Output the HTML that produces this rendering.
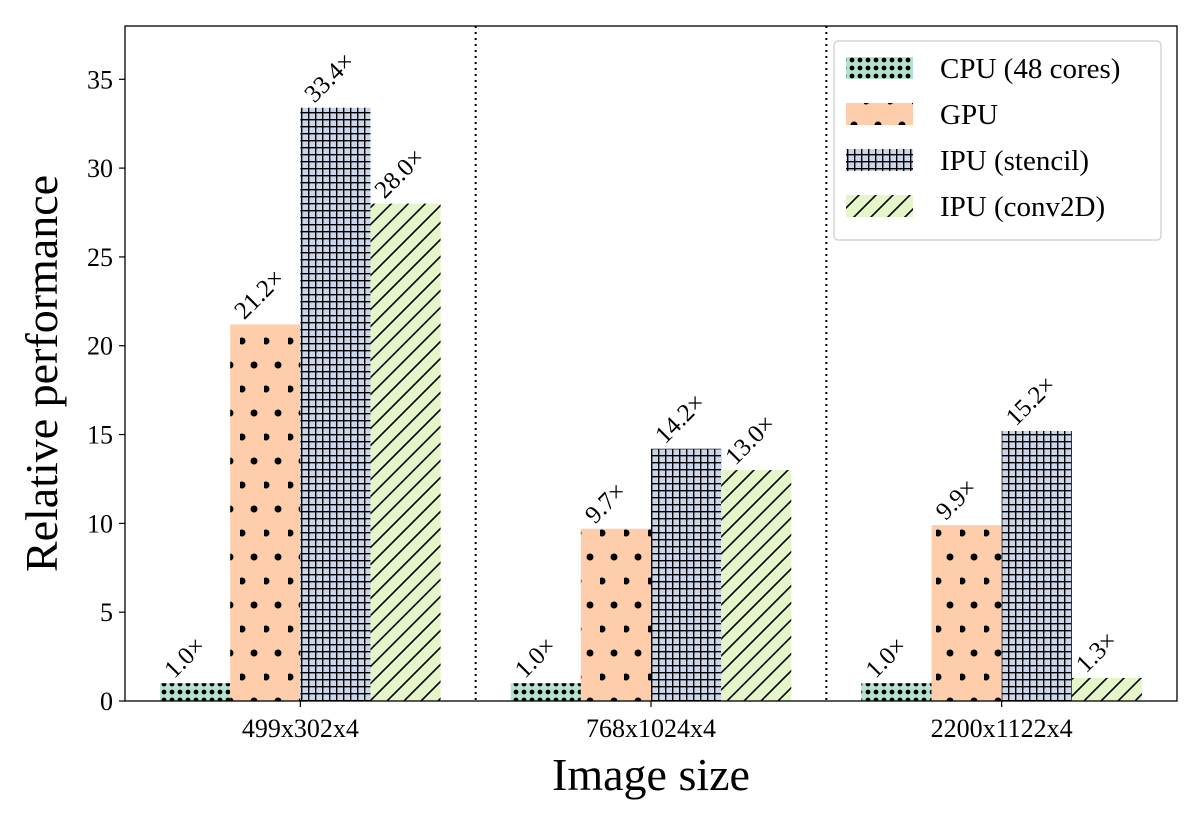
<!DOCTYPE html>
<html><head><meta charset="utf-8"><style>body{margin:0;background:#fff}svg{display:block;font-family:"Liberation Serif",serif}</style></head>
<body>
<svg id="c" width="1200" height="825">
<defs>
<pattern id="p0" patternUnits="userSpaceOnUse" width="8" height="8"><rect width="8" height="8" fill="#b3e2cd"/><circle cx="4" cy="4" r="2.4" fill="#000"/></pattern>
<pattern id="p1" patternUnits="userSpaceOnUse" width="24" height="48"><rect width="24" height="48" fill="#fdcdac"/><circle cx="2" cy="5" r="3.5" fill="#000"/><circle cx="14" cy="29" r="3.5" fill="#000"/></pattern>
<pattern id="p2" patternUnits="userSpaceOnUse" width="7" height="7"><rect width="7" height="7" fill="#cbd5e8"/><path d="M0 0.5H7M0.5 0V7" stroke="#000" stroke-width="1.8"/></pattern>
<pattern id="p3" patternUnits="userSpaceOnUse" width="17" height="17"><rect width="17" height="17" fill="#e6f5c9"/><path d="M-2 19L19 -2M-19 19L2 -2M15 19L36 -2" stroke="#000" stroke-width="1.6"/></pattern>
</defs>
<g id="plot"></g>
</svg>
<script>
const categories=["499x302x4","768x1024x4","2200x1122x4"];
const seriesNames=["CPU (48 cores)","GPU","IPU (stencil)","IPU (conv2D)"];
const cpu=[1.0,1.0,1.0];
const gpu=[21.2,9.7,9.9];
const stencil=[33.4,14.2,15.2];
const conv=[28.0,13.0,1.3];
const yTicks=[0,5,10,15,20,25,30,35];
const series=[cpu,gpu,stencil,conv];
const L=125,R=1177,T=26,B=701,YMAX=38;
const xs=v=>L+(v+0.5)/3*(R-L);
const ys=v=>B-v/YMAX*(B-T);
const bw=0.2*(R-L)/3;
const NS="http://www.w3.org/2000/svg";
const g=document.getElementById('plot');
function mk(t,a,txt){const e=document.createElementNS(NS,t);for(const k in a)e.setAttribute(k,a[k]);if(txt!=null)e.textContent=txt;g.appendChild(e);return e;}
series.forEach((s,si)=>{s.forEach((v,ci)=>{
 const x=xs(ci)+(si-2)*bw;
 const r=mk('rect',{x:x,y:ys(v),width:bw,height:ys(0)-ys(v),fill:'url(#p'+si+')'});
 
 
 const tx=x+bw/2-21,ty=ys(v)-4;
 const t=mk('text',{x:tx,y:ty,'font-size':25,transform:'rotate(-45 '+tx+' '+ty+')'},v.toFixed(1)+'×');
 
 
});});
[0.5,1.5].forEach(v=>{const l=mk('line',{x1:xs(v),x2:xs(v),y1:T,y2:B,stroke:'#000','stroke-width':2,'stroke-dasharray':'2,4'});
 
 });
yTicks.forEach(v=>{mk('line',{x1:L-6,x2:L,y1:ys(v),y2:ys(v),stroke:'#000','stroke-width':1.2});
 const t=mk('text',{x:L-12,y:ys(v)+9,'font-size':26,'text-anchor':'end'},v);
 
 });
categories.forEach((c,i)=>{mk('line',{x1:xs(i),x2:xs(i),y1:B,y2:B+6,stroke:'#000','stroke-width':1.2});
 const t=mk('text',{x:xs(i),y:737,'font-size':26,'text-anchor':'middle'},c);
 
 });
const fr=mk('rect',{x:L,y:T,width:R-L,height:B-T,fill:'none',stroke:'#000','stroke-width':1.3});


const yl=mk('text',{x:57,y:(T+B)/2+10,'font-size':46,'text-anchor':'middle',transform:'rotate(-90 57 '+((T+B)/2+10)+')'},'Relative performance');


const xl=mk('text',{x:(L+R)/2,y:790,'font-size':46,'text-anchor':'middle'},'Image size');


const lb=mk('rect',{x:834,y:41,width:327,height:199,rx:4,fill:'#fff','fill-opacity':0.8,stroke:'#ccc','stroke-width':1.2});


seriesNames.forEach((n,i)=>{const y=57+i*46;
 const p=mk('rect',{x:846,y:y,width:67,height:22,fill:'url(#p'+i+')'});
 
 
 const t=mk('text',{x:940,y:y+21,'font-size':29},n);
 
 });
</script>
</body></html>
